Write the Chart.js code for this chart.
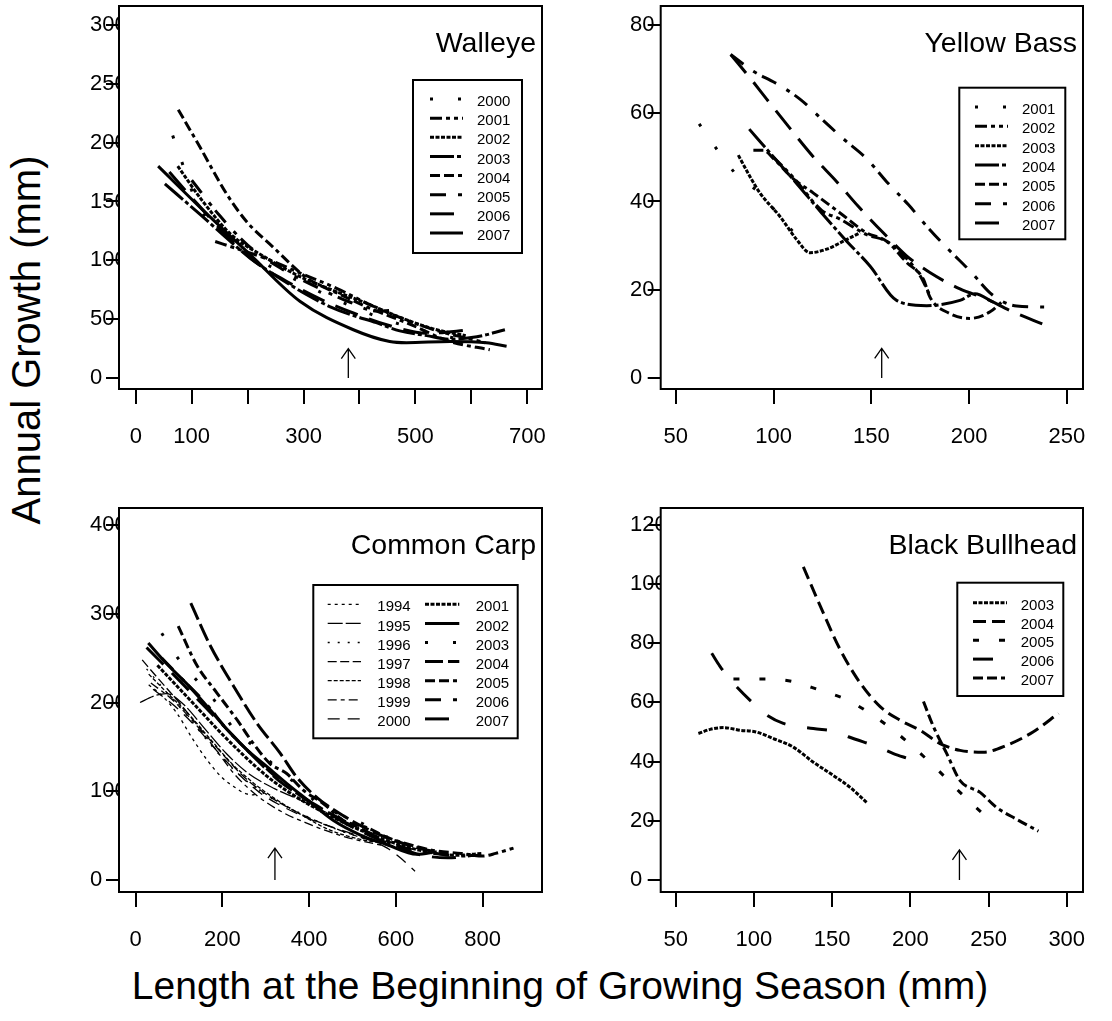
<!DOCTYPE html>
<html lang="en">
<head>
<meta charset="UTF-8" />
<title>Annual Growth vs Length</title>
<script src="https://cdn.jsdelivr.net/npm/chart.js"></script>
<style>
    body { margin: 0; background: #fff; }
    #page { position: relative; width: 1112px; height: 1021px; overflow: hidden; font-family: "Liberation Sans", Arial, sans-serif; }
    canvas { position: absolute; }
    .xtitle { position: absolute; left: 0; width: 1120px; top: 966px; text-align: center; font-size: 39px; line-height: 1; }
    .ytitle { position: absolute; left: 26px; top: 340px; transform: translate(-50%, -50%) rotate(-90deg); font-size: 40px; line-height: 1; white-space: nowrap; }
</style>
</head>
<body>
<div id="page">
    <canvas id="walleye" width="500" height="460" style="left:60px;top:0"></canvas>
    <canvas id="yellowBass" width="500" height="460" style="left:600px;top:0"></canvas>
    <canvas id="carp" width="500" height="480" style="left:60px;top:480px"></canvas>
    <canvas id="bullhead" width="500" height="480" style="left:600px;top:480px"></canvas>
    <div class="ytitle">Annual Growth (mm)</div>
    <div class="xtitle">Length at the Beginning of Growing Season (mm)</div>
</div>

<script>
    // ---- Walleye ----
    const walleyeYears = ['2000', '2001', '2002', '2003', '2004', '2005', '2006', '2007'];
    const walleyeLength = [
        [66, 85, 110, 150, 200, 260, 330, 400, 470, 540, 600],
        [142, 180, 230, 300, 360, 420, 480, 540, 600, 625],
        [75, 120, 170, 230, 290, 350, 410, 470, 530, 590],
        [52, 115, 160, 204, 260, 305, 350, 383, 430, 472, 520, 562, 610, 660],
        [76, 115, 163, 198, 246, 306, 365, 425, 484, 562, 633],
        [100, 150, 200, 260, 320, 380, 430, 472],
        [60, 110, 160, 210, 270, 330, 390, 450, 520, 600],
        [40, 115, 204, 294, 389, 454, 484, 562, 627, 663]
    ];
    const walleyeGrowth = [
        [206, 180, 148, 125, 106, 90, 73, 58, 46, 37, 31],
        [116, 110, 102, 88, 76, 62, 50, 40, 33, 30],
        [180, 150, 122, 103, 87, 75, 64, 52, 42, 36],
        [165, 139, 120, 102, 84, 71, 60, 54, 47, 40, 36, 33, 35, 41],
        [228, 196, 156, 133, 111, 85, 71, 58, 47, 31, 24],
        [168, 138, 113, 93, 78, 65, 57, 58],
        [175, 148, 122, 100, 82, 67, 55, 45, 38, 41],
        [180, 145, 105, 65, 41, 31, 30, 31, 30, 27]
    ];
    const walleyeXTicks = [0, 100, 200, 300, 400, 500, 600, 700];
    const walleyeXLabels = [0, 100, 300, 500, 700];
    const walleyeYTicks = [0, 50, 100, 150, 200, 250, 300];
    const walleyeArrow = [380, 0, 25];

    // ---- Yellow Bass ----
    const bassYears = ['2001', '2002', '2003', '2004', '2005', '2006', '2007'];
    const bassLength = [
        [62, 72.7, 82.9, 92.2, 102.5, 111.8],
        [100, 110, 124.6, 134, 147.6, 157.8, 166, 174.9, 180],
        [82, 88, 93.1, 103.3, 111.8, 118.7, 127.2, 135.7, 144.2],
        [87.6, 100, 111.8, 124.6, 137.4, 149.3, 162.9, 178.3, 195.3, 203, 212.3],
        [89.7, 94.8, 100, 110, 120.4, 134, 147.6, 157.8, 168, 176.6, 180, 190.2, 200.4, 210.7, 217.5],
        [78.1, 89.7, 100.8, 113.5, 124.6, 135.7, 147.6, 157.8, 168.9, 179.1, 189.3, 200.4, 212.3, 224.3, 238.8],
        [78.1, 88, 96.5, 110, 120.4, 132.3, 143.3, 156.1, 168, 179.9, 195.3, 208.9, 220.9, 238.8]
    ];
    const bassGrowth = [
        [57.6, 50.8, 45.2, 42.2, 37, 32.2],
        [50, 45.5, 38, 36, 32.5, 31, 28, 23.2, 18.7],
        [50.5, 45.6, 41.9, 36.6, 31.4, 28.4, 29.2, 31, 32.9],
        [56.4, 50.1, 44.1, 37.4, 31, 25.4, 17.6, 16.4, 17.6, 19.1, 17.2],
        [51.6, 51.6, 49.7, 45.2, 41.9, 37.4, 32.9, 31, 26.2, 22.4, 18.3, 14.6, 13.5, 15, 17.6],
        [73.3, 69.5, 66.9, 63.2, 58.7, 54.2, 49.7, 44.5, 39.3, 34, 29.2, 24.3, 18.7, 16.3, 16.1],
        [73.3, 68, 63.2, 55.7, 50.1, 44.5, 38.9, 32.9, 27.7, 23.9, 20.2, 17.9, 15.3, 12]
    ];
    const bassXTicks = [50, 100, 150, 200, 250];
    const bassYTicks = [0, 20, 40, 60, 80];
    const bassArrow = [155.3, 0, 6.7];

    // ---- Common Carp ----
    const carpYears = ['1994', '1995', '1996', '1997', '1998', '1999', '2000',
        '2001', '2002', '2003', '2004', '2005', '2006', '2007'];
    const carpLength = [
        [30, 60, 95, 130, 165, 200, 230, 250, 270, 290],
        [10, 40, 70, 110, 160, 210, 260, 320, 380, 440, 500, 560],
        [25, 60, 110, 160, 210, 260, 310, 360, 420, 480, 540],
        [15, 50, 100, 150, 200, 250, 300, 350, 400, 450, 500, 560, 600],
        [30, 70, 120, 170, 220, 270, 320, 380, 440, 500, 560, 610],
        [35, 80, 130, 180, 230, 280, 340, 400, 460, 520, 570],
        [40, 90, 140, 190, 240, 290, 350, 410, 470, 530, 580, 610, 644],
        [50, 100, 150, 200, 250, 300, 350, 400, 450, 500, 560, 620, 680, 740, 800],
        [29, 71, 118, 164, 210, 256, 302, 348, 394, 456, 517, 579, 648, 694],
        [60, 96, 137, 179, 225, 264, 302, 340, 379, 425, 471, 525, 563, 594],
        [127, 171, 225, 279, 333, 371, 420, 480, 540, 600, 660, 720],
        [98, 141, 187, 233, 271, 310, 348, 387, 433, 479, 533, 580, 630, 690, 750, 800, 830, 871],
        [60, 110, 160, 210, 260, 310, 360, 410, 460, 510, 570, 630, 690, 750, 790],
        [25, 80, 130, 180, 230, 280, 330, 380, 430, 480, 540, 600, 660, 720, 780]
    ];
    const carpGrowth = [
        [220, 208, 188, 160, 135, 115, 104, 98, 96, 102],
        [200, 207, 210, 198, 170, 142, 120, 103, 90, 76, 62, 50],
        [238, 218, 190, 160, 132, 110, 93, 80, 66, 54, 45],
        [248, 228, 200, 170, 142, 116, 97, 82, 70, 60, 51, 42, 36],
        [232, 212, 188, 160, 132, 110, 92, 74, 58, 48, 43, 43],
        [222, 205, 180, 150, 118, 95, 76, 63, 52, 44, 39],
        [215, 196, 172, 144, 118, 97, 80, 67, 57, 47, 36, 25, 10],
        [242, 216, 190, 164, 140, 118, 100, 85, 72, 60, 48, 38, 31, 28, 30],
        [267, 244, 221, 196, 170, 147, 128, 109, 91, 67, 51, 40, 29, 32],
        [278, 251, 227, 204, 171, 154, 137, 120, 105, 84, 74, 63, 50, 48],
        [312, 265, 219, 177, 143, 116, 92, 72, 56, 44, 35, 30],
        [286, 242, 211, 181, 154, 131, 120, 101, 86, 67, 59, 48, 40, 33, 30, 27, 30, 36],
        [250, 225, 200, 170, 145, 122, 102, 85, 72, 60, 45, 35, 30, 27, 28],
        [262, 235, 210, 185, 160, 135, 112, 95, 80, 65, 50, 38, 28, 25, 28]
    ];
    const carpXTicks = [0, 200, 400, 600, 800];
    const carpYTicks = [0, 100, 200, 300, 400];
    const carpArrow = [321, 0, 36];

    // ---- Black Bullhead ----
    const bullheadYears = ['2003', '2004', '2005', '2006', '2007'];
    const bullheadLength = [
        [64.5, 72, 80.5, 91.1, 100.7, 112.4, 125.2, 138, 150.8, 161.5, 172.1],
        [131.6, 142.3, 155.1, 167.9, 180.7, 193.4, 206.2, 219, 231.8, 246.7, 261.6, 278.7, 294.7],
        [86.9, 107.1, 124.2, 141.2, 159.3, 174.3, 189.2, 203, 217.9, 231.8, 246.7],
        [73, 78.3, 85.8, 101.8, 108.2, 118.8, 138, 152.9, 160.4, 179.6, 189.2, 198.8],
        [208.4, 214.8, 223.3, 231.8, 244.6, 255.2, 268, 281.9]
    ];
    const bullheadGrowth = [
        [49.5, 50.9, 51.5, 50.6, 50.1, 47.8, 44.9, 39.8, 35.3, 31.3, 26.2],
        [105.8, 92.7, 77.9, 66.6, 58.6, 54, 50.6, 46.1, 43.8, 43.2, 45.5, 50.1, 56.3],
        [67.9, 67.9, 67.1, 64.3, 60.9, 56.3, 50.6, 44.4, 37, 29.6, 22.2],
        [76.6, 72.2, 67.1, 58.6, 55.7, 52.9, 51.2, 50.1, 48.4, 44.9, 42.7, 41],
        [60.3, 51.8, 42.7, 33.6, 29.6, 24.5, 20.5, 16.5]
    ];
    const bullheadXTicks = [50, 100, 150, 200, 250, 300];
    const bullheadYTicks = [0, 20, 40, 60, 80, 100, 120];
    const bullheadArrow = [231.4, 0, 10.2];

    // line types
    const DASH = {
        sparse: [3, 25], dashdotdot: [12, 4, 4, 4, 4, 4], dotted: [4, 1.5], longdot: [24, 3, 4, 3],
        dashdash: [10, 4, 10, 4, 4, 4], dashgapdot: [16, 12, 4, 6], long: [24, 12], solid: [],
        tDot: [3, 4], tLong: [15, 3], tSparse: [2, 8], tDash: [9, 3.5], tShort: [4, 2],
        tDashDot: [9, 4, 4, 4], tGap: [12, 8], longdash: [18, 5], dotgap: [6, 20], longgap: [20, 22],
        medium: [13, 6]
    };

    const FONT = '"Liberation Sans", Arial, sans-serif';
    Chart.defaults.font.family = FONT;
    Chart.defaults.color = '#000';

    const panelDeco = {
        id: 'panelDeco',
        afterDraw(chart, args, o) {
            const ctx = chart.ctx;
            const a = chart.chartArea;
            const xs = chart.scales.x, ys = chart.scales.y;
            ctx.save();
            // frame
            ctx.strokeStyle = '#000';
            ctx.lineWidth = 2;
            ctx.setLineDash([]);
            ctx.strokeRect(a.left, a.top, a.right - a.left, a.bottom - a.top);
            // title
            ctx.fillStyle = '#000';
            ctx.font = '28.5px ' + FONT;
            ctx.textAlign = 'right';
            ctx.textBaseline = 'alphabetic';
            ctx.fillText(o.title, a.right - 6, a.top + 46);
            // arrow
            const ax = xs.getPixelForValue(o.arrow[0]);
            const ay0 = ys.getPixelForValue(o.arrow[1]);
            const ay1 = ys.getPixelForValue(o.arrow[2]);
            ctx.lineWidth = 1.3;
            ctx.beginPath();
            ctx.moveTo(ax, ay0);
            ctx.lineTo(ax, ay1);
            ctx.moveTo(ax - 7, ay1 + 10);
            ctx.lineTo(ax, ay1);
            ctx.lineTo(ax + 7, ay1 + 10);
            ctx.stroke();
            // legend
            const L = o.legend;
            ctx.lineWidth = 2;
            ctx.strokeRect(L.box[0], L.box[1], L.box[2] - L.box[0], L.box[3] - L.box[1]);
            ctx.font = '15px ' + FONT;
            ctx.textAlign = 'left';
            ctx.textBaseline = 'middle';
            L.cols.forEach(col => {
                col.rows.forEach((di, r) => {
                    const ds = chart.data.datasets[di];
                    const y = L.y0 + r * L.gap;
                    ctx.lineWidth = ds.borderWidth;
                    ctx.setLineDash(ds.borderDash);
                    ctx.lineCap = 'butt';
                    ctx.beginPath();
                    ctx.moveTo(col.s0, y - 3);
                    ctx.lineTo(col.s1, y - 3);
                    ctx.stroke();
                    ctx.setLineDash([]);
                    ctx.fillText(ds.label, col.tx, y);
                });
            });
            ctx.restore();
        }
    };

    function makePanel(id, opt) {
        const canvas = document.getElementById(id);
        const H = canvas.height, W = canvas.width;
        const a = opt.area;
        const datasets = opt.x.map((xs, i) => ({
            label: opt.labels[i],
            data: xs.map((v, j) => ({ x: v, y: opt.y[i][j] })),
            borderColor: '#000',
            borderWidth: opt.widths[i],
            borderDash: DASH[opt.styles[i]],
            borderCapStyle: 'butt',
            pointRadius: 0,
            showLine: true,
            fill: false,
            cubicInterpolationMode: 'monotone'
        }));
        const zeroPad = s => { s.paddingLeft = 0; s.paddingRight = 0; s.paddingTop = 0; s.paddingBottom = 0; };
        return new Chart(canvas, {
            type: 'scatter',
            data: { datasets },
            options: {
                responsive: false,
                animation: false,
                events: [],
                layout: { padding: { left: 30, top: a.top, right: W - a.right, bottom: 0 } },
                scales: {
                    x: {
                        type: 'linear', min: opt.xRange[0], max: opt.xRange[1],
                        afterBuildTicks: s => { s.ticks = opt.xTicks.map(v => ({ value: v })); },
                        afterFit: s => { s.height = H - a.bottom; zeroPad(s); },
                        ticks: {
                            autoSkip: false, maxRotation: 0, minRotation: 0, padding: 20,
                            font: { size: 22 }, color: '#000',
                            callback: v => (opt.xLabels || opt.xTicks).includes(v) ? String(v) : ''
                        },
                        grid: { drawOnChartArea: false, tickLength: 15, color: '#000', lineWidth: 2 },
                        border: { display: false }
                    },
                    y: {
                        type: 'linear', min: opt.yRange[0], max: opt.yRange[1],
                        afterBuildTicks: s => { s.ticks = opt.yTicks.map(v => ({ value: v })); },
                        afterFit: s => { s.width = a.left - 30; zeroPad(s); },
                        ticks: { crossAlign: 'far', padding: 0, font: { size: 22 }, color: '#000' },
                        grid: { drawOnChartArea: false, tickLength: 13, color: '#000', lineWidth: 2 },
                        border: { display: false }
                    }
                },
                plugins: {
                    legend: { display: false },
                    tooltip: { enabled: false },
                    panelDeco: { title: opt.title, arrow: opt.arrow, legend: opt.legend }
                }
            },
            plugins: [panelDeco]
        });
    }

    makePanel('walleye', {
        title: 'Walleye', labels: walleyeYears, x: walleyeLength, y: walleyeGrowth,
        styles: ['sparse', 'dashdotdot', 'dotted', 'longdot', 'dashdash', 'dashgapdot', 'long', 'solid'],
        widths: [3, 3, 3, 3, 3, 3, 3, 3],
        area: { left: 59, top: 6, right: 482, bottom: 389 },
        xRange: [-30, 726.3], yRange: [-9.35, 316.1],
        xTicks: walleyeXTicks, xLabels: walleyeXLabels, yTicks: walleyeYTicks, arrow: walleyeArrow,
        legend: { box: [353, 80, 462, 253], y0: 102, gap: 19.14, cols: [{ s0: 370, s1: 403, tx: 417, rows: [0, 1, 2, 3, 4, 5, 6, 7] }] }
    });

    makePanel('yellowBass', {
        title: 'Yellow Bass', labels: bassYears, x: bassLength, y: bassGrowth,
        styles: ['sparse', 'dashdotdot', 'dotted', 'longdot', 'dashdash', 'dashgapdot', 'long'],
        widths: [3, 3, 3, 3, 3, 3, 3],
        area: { left: 60.7, top: 6, right: 483, bottom: 389 },
        xRange: [42.33, 258.2], yRange: [-2.49, 84.3],
        xTicks: bassXTicks, yTicks: bassYTicks, arrow: bassArrow,
        legend: { box: [359.3, 87.7, 465.3, 239.3], y0: 110, gap: 19.33, cols: [{ s0: 375, s1: 408, tx: 422, rows: [0, 1, 2, 3, 4, 5, 6] }] }
    });

    makePanel('carp', {
        title: 'Common Carp', labels: carpYears, x: carpLength, y: carpGrowth,
        styles: ['tDot', 'tLong', 'tSparse', 'tDash', 'tShort', 'tDashDot', 'tGap',
            'dotted', 'solid', 'sparse', 'longdash', 'dashdash', 'dashgapdot', 'long'],
        widths: [1.3, 1.3, 1.3, 1.3, 1.3, 1.3, 1.3, 3, 3, 3, 3, 3, 3, 3],
        area: { left: 59, top: 28, right: 482, bottom: 412 },
        xRange: [-38.5, 936.7], yRange: [-13.5, 419.2],
        xTicks: carpXTicks, yTicks: carpYTicks, arrow: carpArrow,
        legend: {
            box: [253.3, 105, 457.7, 258.3], y0: 127.3, gap: 19.1, cols: [
                { s0: 267.7, s1: 301, tx: 317.3, rows: [0, 1, 2, 3, 4, 5, 6] },
                { s0: 365, s1: 399.3, tx: 415.7, rows: [7, 8, 9, 10, 11, 12, 13] }
            ]
        }
    });

    makePanel('bullhead', {
        title: 'Black Bullhead', labels: bullheadYears, x: bullheadLength, y: bullheadGrowth,
        styles: ['dotted', 'medium', 'dotgap', 'longgap', 'dashdash'],
        widths: [3, 3, 3, 3, 3],
        area: { left: 60.7, top: 28, right: 483, bottom: 412 },
        xRange: [40.4, 310.4], yRange: [-4.06, 125.7],
        xTicks: bullheadXTicks, yTicks: bullheadYTicks, arrow: bullheadArrow,
        legend: { box: [357.3, 102.7, 463.3, 216], y0: 125.7, gap: 18.8, cols: [{ s0: 373, s1: 407, tx: 420.7, rows: [0, 1, 2, 3, 4] }] }
    });
</script>
</body>
</html>
